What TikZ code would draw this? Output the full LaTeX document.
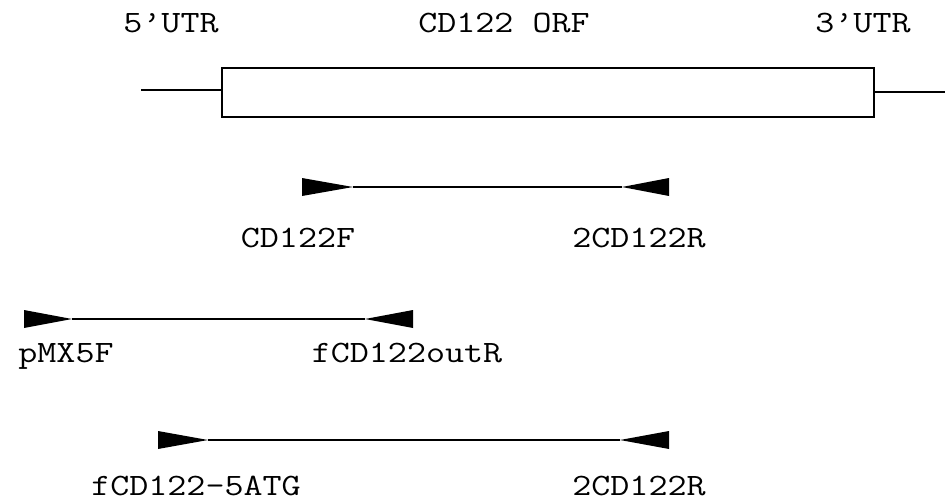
\documentclass[tikz,border=0pt]{standalone}
\usepackage{fontspec}
\usetikzlibrary{calc}
\newfontfamily\lblfont{Latin Modern Mono}[FakeStretch=1.19]
\begin{document}
\begin{tikzpicture}[x=0.75pt,y=-0.75pt,
  lbl/.style={font=\lblfont\fontsize{23.3}{28}\selectfont, inner sep=0pt, anchor=base},
  ln/.style={line width=1.5pt},
]
\useasboundingbox (0,0) rectangle (945,503);
% gene
\node[draw, line width=1.5pt, minimum width=652*0.75pt, minimum height=49*0.75pt, inner sep=0pt, anchor=north west] (orf) at (221,67) {};
\coordinate (l5) at (141,90);
\coordinate (r3) at (945,92);
\draw[ln] (l5) -- (l5 -| orf.west);
\draw[ln] (r3 -| orf.east) -- (r3);
\node[lbl] (t5) at (171,33) {5’UTR};
\node[lbl] (torf) at (504,33) {CD122 ORF};
\node[lbl] (t3) at (863,33) {3’UTR};
% primer pairs
\newcommand{\primerpair}[5]{%
  \coordinate (a#1) at (#2,#1);
  \coordinate (b#1) at (#3,#1);
  \coordinate (c#1) at (#4,#1);
  \coordinate (d#1) at (#5,#1);
  \fill ($(a#1)+(0,-9)$) -- (b#1) -- ($(a#1)+(0,9)$) -- cycle;
  \fill ($(d#1)+(0,-9)$) -- (c#1) -- ($(d#1)+(0,9)$) -- cycle;
  \draw[line width=1.2pt] (b#1) -- (c#1);
}
\primerpair{187}{302}{353}{622}{669}
\primerpair{319}{24}{72}{365}{413}
\primerpair{440}{158}{208}{620}{669}
\node[lbl] (p1) at (298,247) {CD122F};
\node[lbl] (p2) at (639,247) {2CD122R};
\node[lbl] (p3) at (66,362) {pMX5F};
\node[lbl] (p4) at (407,362) {fCD122outR};
\node[lbl] (p5) at (196,495) {fCD122-5ATG};
\node[lbl] (p6) at (639,495) {2CD122R};
\end{tikzpicture}
\end{document}
